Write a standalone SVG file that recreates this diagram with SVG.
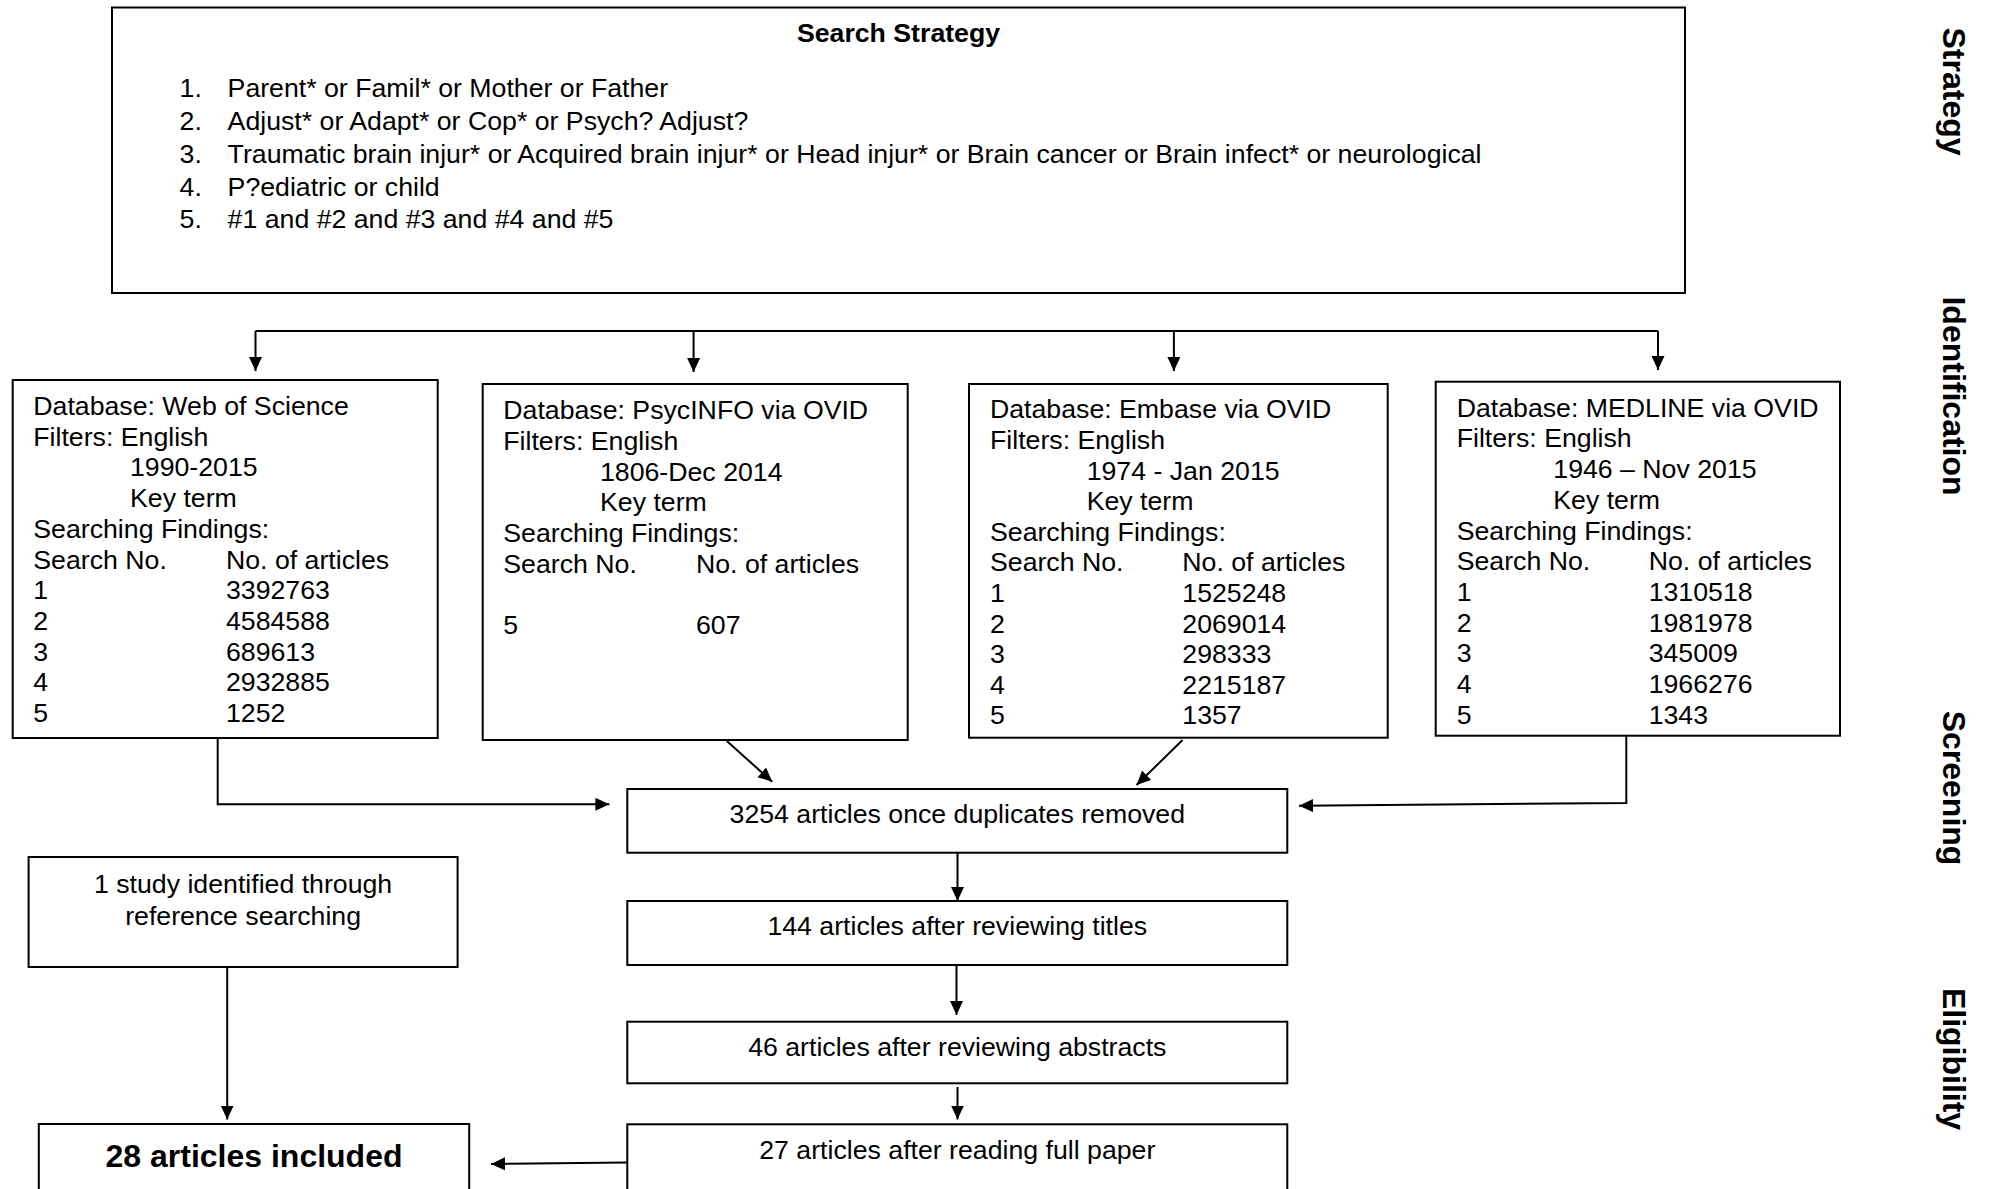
<svg xmlns="http://www.w3.org/2000/svg" width="1991" height="1189" viewBox="0 0 1991 1189">
<style>
.box{fill:#fff;stroke:#000;stroke-width:2}
.t{font-family:"Liberation Sans",Arial,sans-serif;font-size:26.7px;fill:#000}
.b{font-weight:bold}
.c{text-anchor:middle}
.side{font-family:"Liberation Sans",Arial,sans-serif;font-size:32px;font-weight:bold;text-anchor:middle;fill:#000}
.ln{fill:none;stroke:#000;stroke-width:2}
</style>
<defs>
<marker id="ah" markerUnits="userSpaceOnUse" markerWidth="15" markerHeight="14" refX="14" refY="6.5" orient="auto">
<path d="M0,0 L14,6.5 L0,13 z" fill="#000"/>
</marker>
</defs>
<rect width="1991" height="1189" fill="#fff"/>

<g id="connectors">
<path class="ln" d="M255.5,331 L1658,331"/>
<path class="ln" d="M255.5,331 L255.5,371" marker-end="url(#ah)"/>
<path class="ln" d="M693.6,331 L693.6,372" marker-end="url(#ah)"/>
<path class="ln" d="M1173.9,331 L1173.9,371" marker-end="url(#ah)"/>
<path class="ln" d="M1658,331 L1658,370" marker-end="url(#ah)"/>
<path class="ln" d="M217.7,738 L217.7,804.3 L609.4,804.3" marker-end="url(#ah)"/>
<path class="ln" d="M726.8,741 L772.2,781.7" marker-end="url(#ah)"/>
<path class="ln" d="M1182.6,740 L1136.6,785" marker-end="url(#ah)"/>
<path class="ln" d="M1626.3,736 L1626.3,803 L1299,805.7" marker-end="url(#ah)"/>
<path class="ln" d="M957.5,853 L957.5,901" marker-end="url(#ah)"/>
<path class="ln" d="M956.5,965 L956.5,1015" marker-end="url(#ah)"/>
<path class="ln" d="M957.5,1087 L957.5,1119.5" marker-end="url(#ah)"/>
<path class="ln" d="M227.2,967 L227.2,1119.5" marker-end="url(#ah)"/>
<path class="ln" d="M627,1162.5 L491,1164" marker-end="url(#ah)"/>
</g>

<g id="search-strategy">
<rect class="box" x="112" y="7.5" width="1573" height="285.5"/>
<text class="t b c" x="898.5" y="41.7">Search Strategy</text>
<text class="t" x="179.6" y="96.7">1.</text><text class="t" x="227.6" y="96.7">Parent* or Famil* or Mother or Father</text>
<text class="t" x="179.6" y="129.7">2.</text><text class="t" x="227.6" y="129.7">Adjust* or Adapt* or Cop* or Psych? Adjust?</text>
<text class="t" x="179.6" y="162.7">3.</text><text class="t" x="227.6" y="162.7">Traumatic brain injur* or Acquired brain injur* or Head injur* or Brain cancer or Brain infect* or neurological</text>
<text class="t" x="179.6" y="195.5">4.</text><text class="t" x="227.6" y="195.5">P?ediatric or child</text>
<text class="t" x="179.6" y="228.3">5.</text><text class="t" x="227.6" y="228.3">#1 and #2 and #3 and #4 and #5</text>
</g>

<g id="web-of-science">
<rect class="box" x="12.7" y="380" width="425" height="358"/>
<text class="t" x="33.3" y="415">Database: Web of Science</text>
<text class="t" x="33.3" y="445.7">Filters: English</text>
<text class="t" x="130" y="476.4">1990-2015</text>
<text class="t" x="130" y="507.1">Key term</text>
<text class="t" x="33.3" y="537.8">Searching Findings:</text>
<text class="t" x="33.3" y="568.5">Search No.</text><text class="t" x="226" y="568.5">No. of articles</text>
<text class="t" x="33.3" y="599.2">1</text><text class="t" x="226" y="599.2">3392763</text>
<text class="t" x="33.3" y="629.9">2</text><text class="t" x="226" y="629.9">4584588</text>
<text class="t" x="33.3" y="660.6">3</text><text class="t" x="226" y="660.6">689613</text>
<text class="t" x="33.3" y="691.3">4</text><text class="t" x="226" y="691.3">2932885</text>
<text class="t" x="33.3" y="722">5</text><text class="t" x="226" y="722">1252</text>
</g>

<g id="psycinfo">
<rect class="box" x="482.7" y="384" width="425" height="356"/>
<text class="t" x="503.3" y="419.3">Database: PsycINFO via OVID</text>
<text class="t" x="503.3" y="450">Filters: English</text>
<text class="t" x="600" y="480.7">1806-Dec 2014</text>
<text class="t" x="600" y="511.4">Key term</text>
<text class="t" x="503.3" y="542.1">Searching Findings:</text>
<text class="t" x="503.3" y="572.8">Search No.</text><text class="t" x="696" y="572.8">No. of articles</text>
<text class="t" x="503.3" y="634">5</text><text class="t" x="696" y="634">607</text>
</g>

<g id="embase">
<rect class="box" x="969" y="384" width="418.7" height="353.7"/>
<text class="t" x="990" y="418.3">Database: Embase via OVID</text>
<text class="t" x="990" y="448.9">Filters: English</text>
<text class="t" x="1086.7" y="479.5">1974 - Jan 2015</text>
<text class="t" x="1086.7" y="510.1">Key term</text>
<text class="t" x="990" y="540.7">Searching Findings:</text>
<text class="t" x="990" y="571.3">Search No.</text><text class="t" x="1182.3" y="571.3">No. of articles</text>
<text class="t" x="990" y="601.9">1</text><text class="t" x="1182.3" y="601.9">1525248</text>
<text class="t" x="990" y="632.5">2</text><text class="t" x="1182.3" y="632.5">2069014</text>
<text class="t" x="990" y="663.1">3</text><text class="t" x="1182.3" y="663.1">298333</text>
<text class="t" x="990" y="693.7">4</text><text class="t" x="1182.3" y="693.7">2215187</text>
<text class="t" x="990" y="724.3">5</text><text class="t" x="1182.3" y="724.3">1357</text>
</g>

<g id="medline">
<rect class="box" x="1435.7" y="381.7" width="404.3" height="354"/>
<text class="t" x="1456.7" y="416.7">Database: MEDLINE via OVID</text>
<text class="t" x="1456.7" y="447.4">Filters: English</text>
<text class="t" x="1553.3" y="478.1">1946 – Nov 2015</text>
<text class="t" x="1553.3" y="508.8">Key term</text>
<text class="t" x="1456.7" y="539.5">Searching Findings:</text>
<text class="t" x="1456.7" y="570.2">Search No.</text><text class="t" x="1648.7" y="570.2">No. of articles</text>
<text class="t" x="1456.7" y="600.9">1</text><text class="t" x="1648.7" y="600.9">1310518</text>
<text class="t" x="1456.7" y="631.6">2</text><text class="t" x="1648.7" y="631.6">1981978</text>
<text class="t" x="1456.7" y="662.3">3</text><text class="t" x="1648.7" y="662.3">345009</text>
<text class="t" x="1456.7" y="693">4</text><text class="t" x="1648.7" y="693">1966276</text>
<text class="t" x="1456.7" y="723.7">5</text><text class="t" x="1648.7" y="723.7">1343</text>
</g>

<g id="duplicates-removed">
<rect class="box" x="627.3" y="789" width="660" height="63.7"/>
<text class="t c" x="957.3" y="823.3">3254 articles once duplicates removed</text>
</g>

<g id="reviewing-titles">
<rect class="box" x="627.3" y="901" width="660" height="64"/>
<text class="t c" x="957.3" y="935">144 articles after reviewing titles</text>
</g>

<g id="reviewing-abstracts">
<rect class="box" x="627.3" y="1021.7" width="660" height="61.6"/>
<text class="t c" x="957.3" y="1056">46 articles after reviewing abstracts</text>
</g>

<g id="full-paper">
<rect class="box" x="627.3" y="1124.3" width="660" height="80"/>
<text class="t c" x="957.3" y="1159.3">27 articles after reading full paper</text>
</g>

<g id="reference-searching">
<rect class="box" x="28.6" y="857" width="429" height="110"/>
<text class="t c" x="243.1" y="892.7">1 study identified through</text>
<text class="t c" x="243.1" y="925">reference searching</text>
</g>

<g id="included">
<rect class="box" x="38.8" y="1124" width="430.4" height="80"/>
<text class="t b c" x="254" y="1167" style="font-size:32px">28 articles included</text>
</g>

<g id="phase-labels">
<text class="side" transform="translate(1943,91.5) rotate(90)">Strategy</text>
<text class="side" transform="translate(1943,396) rotate(90)">Identification</text>
<text class="side" transform="translate(1943,788) rotate(90)">Screening</text>
<text class="side" transform="translate(1943,1059) rotate(90)">Eligibility</text>
</g>
</svg>
